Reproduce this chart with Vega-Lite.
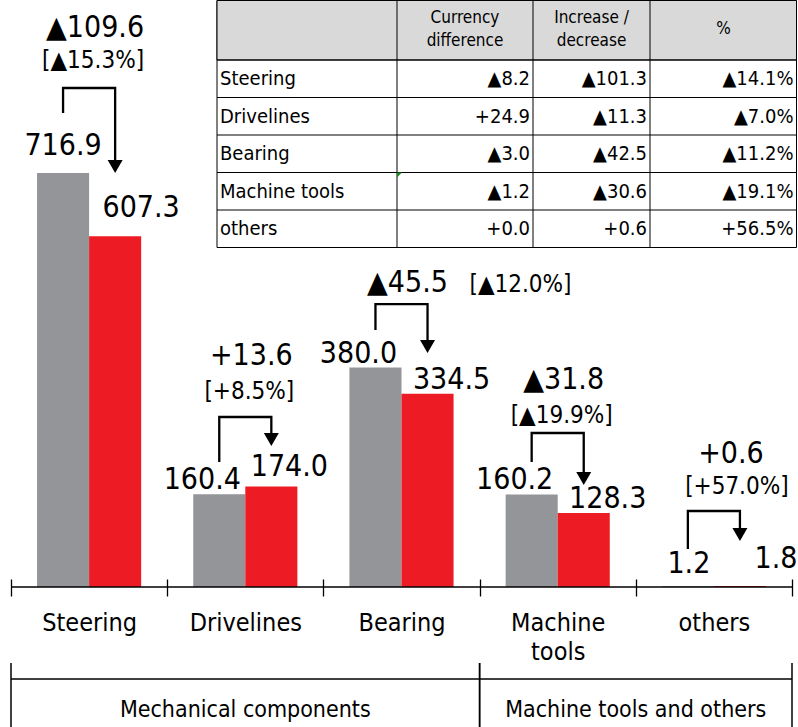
{
  "$schema": "https://vega.github.io/schema/vega-lite/v6.json",
  "width": 781,
  "height": 587,
  "autosize": {"type": "none"},
  "padding": {"left": 11, "top": 0, "right": 6, "bottom": 140},
  "background": "white",
  "config": {
    "font": "DejaVu Sans Condensed",
    "view": {"stroke": null},
    "text": {"color": "black", "font": "DejaVu Sans Condensed"}
  },
  "datasets": {
    "sales": [
      {"segment": "Steering", "period": "prev", "value": 716.9},
      {"segment": "Steering", "period": "curr", "value": 607.3},
      {"segment": "Drivelines", "period": "prev", "value": 160.4},
      {"segment": "Drivelines", "period": "curr", "value": 174.0},
      {"segment": "Bearing", "period": "prev", "value": 380.0},
      {"segment": "Bearing", "period": "curr", "value": 334.5},
      {"segment": "Machine tools", "period": "prev", "value": 160.2},
      {"segment": "Machine tools", "period": "curr", "value": 128.3},
      {"segment": "others", "period": "prev", "value": 1.2},
      {"segment": "others", "period": "curr", "value": 1.8}
    ],
    "connectors": [
      {"segment": "Steering", "period": "prev", "step": 1, "level": 820.8},
      {"segment": "Steering", "period": "prev", "step": 2, "level": 864.1},
      {"segment": "Steering", "period": "curr", "step": 3, "level": 864.1},
      {"segment": "Steering", "period": "curr", "step": 4, "level": 728.1},
      {"segment": "Drivelines", "period": "prev", "step": 1, "level": 216.5},
      {"segment": "Drivelines", "period": "prev", "step": 2, "level": 294.4},
      {"segment": "Drivelines", "period": "curr", "step": 3, "level": 294.4},
      {"segment": "Drivelines", "period": "curr", "step": 4, "level": 255.4},
      {"segment": "Bearing", "period": "prev", "step": 1, "level": 445.0},
      {"segment": "Bearing", "period": "prev", "step": 2, "level": 490.0},
      {"segment": "Bearing", "period": "curr", "step": 3, "level": 490.0},
      {"segment": "Bearing", "period": "curr", "step": 4, "level": 416.5},
      {"segment": "Machine tools", "period": "prev", "step": 1, "level": 216.5},
      {"segment": "Machine tools", "period": "prev", "step": 2, "level": 266.7},
      {"segment": "Machine tools", "period": "curr", "step": 3, "level": 266.7},
      {"segment": "Machine tools", "period": "curr", "step": 4, "level": 187.9},
      {"segment": "others", "period": "prev", "step": 1, "level": 65.8},
      {"segment": "others", "period": "prev", "step": 2, "level": 131.6},
      {"segment": "others", "period": "curr", "step": 3, "level": 131.6},
      {"segment": "others", "period": "curr", "step": 4, "level": 90.9}
    ],
    "changes": [
      {"segment": "Steering", "change": "▲109.6", "pct": "[▲15.3%]", "changeLevel": 952.4, "pctLevel": 898.7},
      {"segment": "Drivelines", "change": "+13.6", "pct": "[+8.5%]", "changeLevel": 384.4, "pctLevel": 325.5},
      {"segment": "Bearing", "change": "▲45.5", "pct": "[▲12.0%]", "changeLevel": 510.8, "pctLevel": 510.8},
      {"segment": "Machine tools", "change": "▲31.8", "pct": "[▲19.9%]", "changeLevel": 342.9, "pctLevel": 284.0},
      {"segment": "others", "change": "+0.6", "pct": "[+57.0%]", "changeLevel": 214.7, "pctLevel": 161.0}
    ],
    "groups": [
      {"group": "Mechanical components", "first": "Steering", "last": "Bearing"},
      {"group": "Machine tools and others", "first": "Machine tools", "last": "others"}
    ],
    "tableRows": [
      {"row": 1, "segment": "Steering", "currency": "▲8.2", "change": "▲101.3", "pct": "▲14.1%"},
      {"row": 2, "segment": "Drivelines", "currency": "+24.9", "change": "▲11.3", "pct": "▲7.0%"},
      {"row": 3, "segment": "Bearing", "currency": "▲3.0", "change": "▲42.5", "pct": "▲11.2%"},
      {"row": 4, "segment": "Machine tools", "currency": "▲1.2", "change": "▲30.6", "pct": "▲19.1%"},
      {"row": 5, "segment": "others", "currency": "+0.0", "change": "+0.6", "pct": "+56.5%"}
    ],
    "tableColumns": [
      {"col": 1, "title": "Currency\ndifference"},
      {"col": 2, "title": "Increase /\ndecrease"},
      {"col": 3, "title": "%"}
    ]
  },
  "layer": [
    {
      "layer": [
        {
          "data": {"name": "sales"},
          "mark": {"type": "bar"},
          "encoding": {
            "x": {
              "field": "segment", "type": "nominal",
              "scale": {"domain": ["Steering", "Drivelines", "Bearing", "Machine tools", "others"], "paddingInner": 0, "paddingOuter": 0},
              "axis": {
                "title": null, "domain": false, "grid": false, "offset": -8,
                "tickSize": 17, "tickWidth": 1.3, "tickColor": "black", "tickBand": "extent",
                "labelAngle": 0, "labelFontSize": 25, "labelColor": "black", "labelPadding": 14,
                "labelBaseline": "top", "labelLineHeight": 29, "labelLimit": 0,
                "labelExpr": "datum.label == 'Machine tools' ? ['Machine', 'tools'] : datum.label"
              }
            },
            "xOffset": {"field": "period", "type": "nominal", "scale": {"domain": ["prev", "curr"], "paddingInner": 0, "paddingOuter": 0.5}},
            "y": {"field": "value", "type": "quantitative", "scale": {"domain": [0, 1016.5], "nice": false, "zero": true}, "axis": null},
            "color": {"field": "period", "type": "nominal", "scale": {"domain": ["prev", "curr"], "range": ["#939598", "#ed1c24"]}, "legend": null}
          }
        },
        {
          "data": {"values": [{}]},
          "mark": {"type": "rule", "color": "black", "strokeWidth": 1.3},
          "encoding": {"y": {"datum": 0, "type": "quantitative", "axis": null}}
        },
        {
          "data": {"name": "connectors"},
          "mark": {"type": "line", "color": "black", "strokeWidth": 2.3, "strokeJoin": "miter"},
          "encoding": {
            "x": {"field": "segment", "type": "nominal"},
            "xOffset": {"field": "period", "type": "nominal"},
            "y": {"field": "level", "type": "quantitative", "axis": null},
            "detail": {"field": "segment"},
            "order": {"field": "step"}
          }
        },
        {
          "data": {"name": "connectors"},
          "transform": [{"filter": "datum.step == 4"}],
          "mark": {"type": "point", "shape": "triangle-down", "size": 225, "filled": true, "color": "black", "opacity": 1, "strokeWidth": 0},
          "encoding": {
            "x": {"field": "segment", "type": "nominal"},
            "xOffset": {"field": "period", "type": "nominal"},
            "y": {"field": "level", "type": "quantitative", "axis": null}
          }
        },
        {
          "data": {"name": "sales"},
          "transform": [{"filter": {"and": [{"field": "period", "equal": "prev"}, {"field": "segment", "oneOf": ["Drivelines", "Bearing", "Machine tools"]}]}}],
          "mark": {"type": "text", "fontSize": 30, "baseline": "alphabetic", "dx": -17, "dy": -5},
          "encoding": {
            "x": {"field": "segment", "type": "nominal"},
            "xOffset": {"field": "period", "type": "nominal"},
            "y": {"field": "value", "type": "quantitative", "axis": null},
            "text": {"field": "value", "type": "quantitative", "format": ".1f"}
          }
        },
        {
          "data": {"name": "sales"},
          "transform": [{"filter": {"and": [{"field": "period", "equal": "prev"}, {"field": "segment", "equal": "Steering"}]}}],
          "mark": {"type": "text", "fontSize": 30, "baseline": "alphabetic", "dx": 0, "dy": -18},
          "encoding": {
            "x": {"field": "segment", "type": "nominal"},
            "xOffset": {"field": "period", "type": "nominal"},
            "y": {"field": "value", "type": "quantitative", "axis": null},
            "text": {"field": "value", "type": "quantitative", "format": ".1f"}
          }
        },
        {
          "data": {"name": "sales"},
          "transform": [{"filter": {"and": [{"field": "period", "equal": "prev"}, {"field": "segment", "equal": "others"}]}}],
          "mark": {"type": "text", "fontSize": 30, "baseline": "alphabetic", "dx": 1, "dy": -13},
          "encoding": {
            "x": {"field": "segment", "type": "nominal"},
            "xOffset": {"field": "period", "type": "nominal"},
            "y": {"field": "value", "type": "quantitative", "axis": null},
            "text": {"field": "value", "type": "quantitative", "format": ".1f"}
          }
        },
        {
          "data": {"name": "sales"},
          "transform": [{"filter": {"and": [{"field": "period", "equal": "curr"}, {"field": "segment", "equal": "Steering"}]}}],
          "mark": {"type": "text", "fontSize": 30, "baseline": "alphabetic", "dx": 26, "dy": -19},
          "encoding": {
            "x": {"field": "segment", "type": "nominal"},
            "xOffset": {"field": "period", "type": "nominal"},
            "y": {"field": "value", "type": "quantitative", "axis": null},
            "text": {"field": "value", "type": "quantitative", "format": ".1f"}
          }
        },
        {
          "data": {"name": "sales"},
          "transform": [{"filter": {"and": [{"field": "period", "equal": "curr"}, {"field": "segment", "equal": "Drivelines"}]}}],
          "mark": {"type": "text", "fontSize": 30, "baseline": "alphabetic", "dx": 18, "dy": -11},
          "encoding": {
            "x": {"field": "segment", "type": "nominal"},
            "xOffset": {"field": "period", "type": "nominal"},
            "y": {"field": "value", "type": "quantitative", "axis": null},
            "text": {"field": "value", "type": "quantitative", "format": ".1f"}
          }
        },
        {
          "data": {"name": "sales"},
          "transform": [{"filter": {"and": [{"field": "period", "equal": "curr"}, {"field": "segment", "oneOf": ["Bearing", "Machine tools"]}]}}],
          "mark": {"type": "text", "fontSize": 30, "baseline": "alphabetic", "dx": 24, "dy": -5},
          "encoding": {
            "x": {"field": "segment", "type": "nominal"},
            "xOffset": {"field": "period", "type": "nominal"},
            "y": {"field": "value", "type": "quantitative", "axis": null},
            "text": {"field": "value", "type": "quantitative", "format": ".1f"}
          }
        },
        {
          "data": {"name": "sales"},
          "transform": [{"filter": {"and": [{"field": "period", "equal": "curr"}, {"field": "segment", "equal": "others"}]}}],
          "mark": {"type": "text", "fontSize": 30, "baseline": "alphabetic", "dx": 36, "dy": -18},
          "encoding": {
            "x": {"field": "segment", "type": "nominal"},
            "xOffset": {"field": "period", "type": "nominal"},
            "y": {"field": "value", "type": "quantitative", "axis": null},
            "text": {"field": "value", "type": "quantitative", "format": ".1f"}
          }
        },
        {
          "data": {"name": "changes"},
          "transform": [{"filter": {"not": {"field": "segment", "equal": "others"}}}],
          "mark": {"type": "text", "fontSize": 30, "baseline": "alphabetic", "dx": 6},
          "encoding": {
            "x": {"field": "segment", "type": "nominal"},
            "y": {"field": "changeLevel", "type": "quantitative", "axis": null},
            "text": {"field": "change"}
          }
        },
        {
          "data": {"name": "changes"},
          "transform": [{"filter": {"field": "segment", "equal": "others"}}],
          "mark": {"type": "text", "fontSize": 30, "baseline": "alphabetic", "dx": 17},
          "encoding": {
            "x": {"field": "segment", "type": "nominal"},
            "y": {"field": "changeLevel", "type": "quantitative", "axis": null},
            "text": {"field": "change"}
          }
        },
        {
          "data": {"name": "changes"},
          "transform": [{"filter": {"field": "segment", "oneOf": ["Steering", "Drivelines", "Machine tools"]}}],
          "mark": {"type": "text", "fontSize": 24, "baseline": "alphabetic", "dx": 4},
          "encoding": {
            "x": {"field": "segment", "type": "nominal"},
            "y": {"field": "pctLevel", "type": "quantitative", "axis": null},
            "text": {"field": "pct"}
          }
        },
        {
          "data": {"name": "changes"},
          "transform": [{"filter": {"field": "segment", "equal": "others"}}],
          "mark": {"type": "text", "fontSize": 24, "baseline": "alphabetic", "dx": 23},
          "encoding": {
            "x": {"field": "segment", "type": "nominal"},
            "y": {"field": "pctLevel", "type": "quantitative", "axis": null},
            "text": {"field": "pct"}
          }
        },
        {
          "data": {"name": "changes"},
          "transform": [{"filter": {"field": "segment", "equal": "Bearing"}}],
          "mark": {"type": "text", "fontSize": 24, "baseline": "alphabetic", "align": "left", "dx": 68},
          "encoding": {
            "x": {"field": "segment", "type": "nominal"},
            "y": {"field": "pctLevel", "type": "quantitative", "axis": null},
            "text": {"field": "pct"}
          }
        },
        {
          "data": {"name": "groups"},
          "mark": {"type": "rule", "color": "black", "strokeWidth": 1.5},
          "encoding": {
            "x": {"field": "first", "type": "nominal", "bandPosition": 0},
            "y": {"datum": -131.6, "type": "quantitative", "axis": null},
            "y2": {"datum": -245}
          }
        },
        {
          "data": {"name": "groups"},
          "mark": {"type": "rule", "color": "black", "strokeWidth": 1.5},
          "encoding": {
            "x": {"field": "last", "type": "nominal", "bandPosition": 1},
            "y": {"datum": -131.6, "type": "quantitative", "axis": null},
            "y2": {"datum": -245}
          }
        },
        {
          "data": {"values": [{}]},
          "mark": {"type": "rule", "color": "black", "strokeWidth": 1.5},
          "encoding": {"y": {"datum": -159.3, "type": "quantitative", "axis": null}}
        },
        {
          "data": {"name": "groups"},
          "transform": [{"filter": {"field": "group", "equal": "Mechanical components"}}],
          "mark": {"type": "text", "fontSize": 23, "baseline": "alphabetic"},
          "encoding": {
            "x": {"datum": "Drivelines", "type": "nominal"},
            "y": {"datum": -225.1, "type": "quantitative", "axis": null},
            "text": {"field": "group"}
          }
        },
        {
          "data": {"name": "groups"},
          "transform": [{"filter": {"field": "group", "equal": "Machine tools and others"}}],
          "mark": {"type": "text", "fontSize": 23, "baseline": "alphabetic", "dx": 78},
          "encoding": {
            "x": {"datum": "Machine tools", "type": "nominal"},
            "y": {"datum": -225.1, "type": "quantitative", "axis": null},
            "text": {"field": "group"}
          }
        }
      ]
    },
    {
      "layer": [
        {
          "data": {"values": [{}]},
          "mark": {"type": "rect", "fill": "white", "stroke": "black", "strokeWidth": 1},
          "encoding": {
            "x": {"datum": 0, "type": "quantitative", "scale": {"domain": [0, 1, 2, 3, 4], "range": [206, 386, 522, 639, 785.5], "nice": false, "zero": false}, "axis": null},
            "x2": {"datum": 4},
            "y": {"datum": 0, "type": "quantitative", "scale": {"domain": [0, 1, 2, 3, 4, 5, 6], "range": [0.5, 60, 97.5, 135, 172.5, 210, 247.5], "nice": false, "zero": false}, "axis": null},
            "y2": {"datum": 6}
          }
        },
        {
          "data": {"values": [{}]},
          "mark": {"type": "rect", "fill": "#d9d9d9", "stroke": "black", "strokeWidth": 1},
          "encoding": {
            "x": {"datum": 0, "type": "quantitative", "axis": null},
            "x2": {"datum": 4},
            "y": {"datum": 0, "type": "quantitative", "axis": null},
            "y2": {"datum": 1}
          }
        },
        {
          "data": {"name": "tableRows"},
          "mark": {"type": "rule", "color": "black", "strokeWidth": 1},
          "encoding": {
            "x": {"datum": 0, "type": "quantitative", "axis": null},
            "x2": {"datum": 4},
            "y": {"field": "row", "type": "quantitative", "axis": null}
          }
        },
        {
          "data": {"name": "tableColumns"},
          "mark": {"type": "rule", "color": "black", "strokeWidth": 1},
          "encoding": {
            "x": {"field": "col", "type": "quantitative", "axis": null},
            "y": {"datum": 0, "type": "quantitative", "axis": null},
            "y2": {"datum": 6}
          }
        },
        {
          "data": {"name": "tableColumns"},
          "transform": [{"filter": "datum.col == 1"}],
          "mark": {"type": "text", "fontSize": 17, "lineBreak": "\n", "lineHeight": 23, "baseline": "middle", "dx": 68, "dy": 17},
          "encoding": {
            "x": {"field": "col", "type": "quantitative", "axis": null},
            "y": {"datum": 0, "type": "quantitative", "axis": null},
            "text": {"field": "title"}
          }
        },
        {
          "data": {"name": "tableColumns"},
          "transform": [{"filter": "datum.col == 2"}],
          "mark": {"type": "text", "fontSize": 17, "lineBreak": "\n", "lineHeight": 23, "baseline": "middle", "dx": 58.5, "dy": 17},
          "encoding": {
            "x": {"field": "col", "type": "quantitative", "axis": null},
            "y": {"datum": 0, "type": "quantitative", "axis": null},
            "text": {"field": "title"}
          }
        },
        {
          "data": {"name": "tableColumns"},
          "transform": [{"filter": "datum.col == 3"}],
          "mark": {"type": "text", "fontSize": 17, "lineBreak": "\n", "lineHeight": 23, "baseline": "middle", "dx": 73.5, "dy": 28},
          "encoding": {
            "x": {"field": "col", "type": "quantitative", "axis": null},
            "y": {"datum": 0, "type": "quantitative", "axis": null},
            "text": {"field": "title"}
          }
        },
        {
          "data": {"name": "tableRows"},
          "mark": {"type": "text", "fontSize": 20, "align": "left", "baseline": "middle", "dx": 3, "dy": 19},
          "encoding": {
            "x": {"datum": 0, "type": "quantitative", "axis": null},
            "y": {"field": "row", "type": "quantitative", "axis": null},
            "text": {"field": "segment"}
          }
        },
        {
          "data": {"name": "tableRows"},
          "mark": {"type": "text", "fontSize": 20, "align": "right", "baseline": "middle", "dx": -3, "dy": 19},
          "encoding": {
            "x": {"datum": 2, "type": "quantitative", "axis": null},
            "y": {"field": "row", "type": "quantitative", "axis": null},
            "text": {"field": "currency"}
          }
        },
        {
          "data": {"name": "tableRows"},
          "mark": {"type": "text", "fontSize": 20, "align": "right", "baseline": "middle", "dx": -3, "dy": 19},
          "encoding": {
            "x": {"datum": 3, "type": "quantitative", "axis": null},
            "y": {"field": "row", "type": "quantitative", "axis": null},
            "text": {"field": "change"}
          }
        },
        {
          "data": {"name": "tableRows"},
          "mark": {"type": "text", "fontSize": 20, "align": "right", "baseline": "middle", "dx": -3, "dy": 19},
          "encoding": {
            "x": {"datum": 4, "type": "quantitative", "axis": null},
            "y": {"field": "row", "type": "quantitative", "axis": null},
            "text": {"field": "pct"}
          }
        },
        {
          "data": {"name": "tableRows"},
          "transform": [{"filter": {"field": "segment", "equal": "Machine tools"}}],
          "mark": {"type": "point", "shape": "M0,0L1,0L0,1Z", "size": 100, "filled": true, "color": "#1f8a1f", "opacity": 1, "strokeWidth": 0},
          "encoding": {
            "x": {"datum": 1, "type": "quantitative", "axis": null},
            "y": {"field": "row", "type": "quantitative", "axis": null}
          }
        }
      ]
    }
  ],
  "resolve": {"scale": {"x": "independent", "y": "independent"}}
}
